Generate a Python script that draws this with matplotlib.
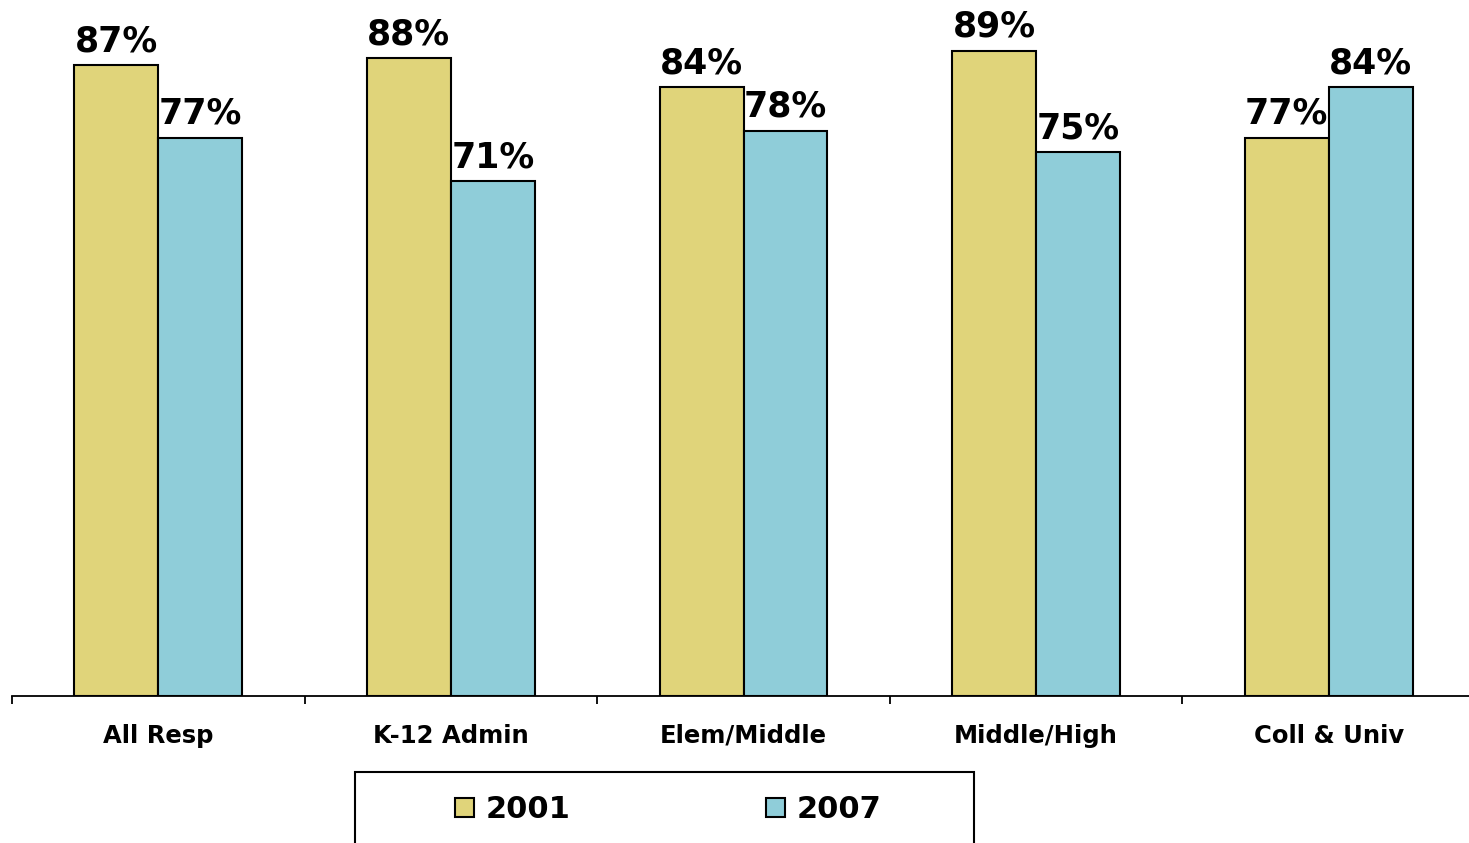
import matplotlib
matplotlib.use('Agg')
from matplotlib import pyplot as plt
from matplotlib.patches import Rectangle
import numpy as np

categories = ['All Resp', 'K-12 Admin', 'Elem/Middle', 'Middle/High', 'Coll & Univ']
series_names = ['2001', '2007']
values_2001 = [87, 88, 84, 89, 77]
values_2007 = [77, 71, 78, 75, 84]
colors = ['#E0D47A', '#8FCDD9']

plt.rcParams['font.family'] = ['DejaVu Sans']
plt.rcParams['font.weight'] = 'bold'

fig = plt.figure(figsize=(14.69, 8.43), dpi=100)
ax = fig.add_axes([12 / 1469, 1 - 696 / 843, 1463 / 1469, 696 / 843])

x = np.arange(len(categories))
w = 0.287

bars1 = ax.bar(x - w / 2, values_2001, w, color=colors[0], edgecolor='black', linewidth=1.5, label=series_names[0])
bars2 = ax.bar(x + w / 2, values_2007, w, color=colors[1], edgecolor='black', linewidth=1.5, label=series_names[1])

for bars, vals in [(bars1, values_2001), (bars2, values_2007)]:
    for b, v in zip(bars, vals):
        ax.annotate(f'{v}%', (b.get_x() + b.get_width() / 2, v),
                    xytext=(0, 5), textcoords='offset points',
                    ha='center', va='bottom', fontsize=25, fontweight='bold')

ax.set_xlim(-0.5, 4.5)
ax.set_ylim(0, 96)

for s in ['top', 'left', 'right']:
    ax.spines[s].set_visible(False)
ax.spines['bottom'].set_linewidth(1.3)
ax.set_yticks([])

ax.set_xticks(x)
ax.set_xticklabels(categories, fontsize=17.5, fontweight='bold')
ax.tick_params(axis='x', which='major', length=0, pad=20)
ax.set_xticks(np.arange(-0.5, 5.0, 1.0), minor=True)
ax.tick_params(axis='x', which='minor', length=6, width=1.3, direction='out')

# legend box
fig.patches.append(Rectangle((355 / 1469, -0.05), (974 - 355) / 1469, 0.05 + 1 - 772 / 843,
                             transform=fig.transFigure, fill=False, edgecolor='black',
                             linewidth=1.5))
fig.legend(handles=[bars1, bars2], labels=series_names, loc='center left',
           bbox_to_anchor=(440 / 1469, 1 - 810 / 843), ncol=2, frameon=False,
           prop={'size': 22, 'weight': 'bold'}, borderpad=0,
           handlelength=0.6, handleheight=0.6, handletextpad=0.4, columnspacing=6.4)

fig.savefig('out.png', dpi=100)
